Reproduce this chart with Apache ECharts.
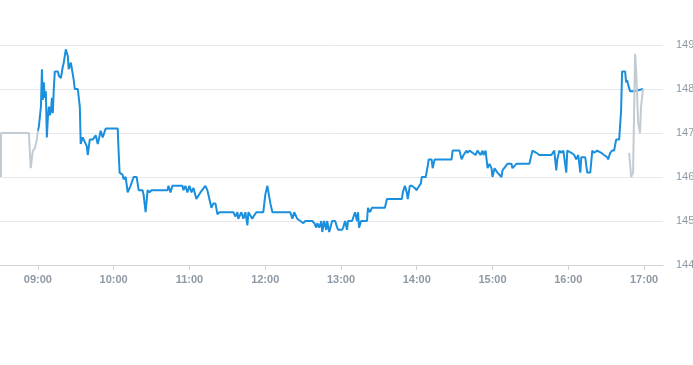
<!DOCTYPE html>
<html>
<head>
<meta charset="utf-8">
<script src="https://cdn.jsdelivr.net/npm/echarts@6/dist/echarts.min.js"></script>
<style>html,body{margin:0;padding:0;background:#fff}#c{width:693px;height:365px}</style>
</head>
<body>
<div id="c"></div>
<script>
// minutes since midnight
const preTimes = [510.8,510.8,532.9,534.3,536.0,537.6,539.2,540.0];
const preValues = [146.0,147.0,147.0,146.2,146.6,146.65,146.85,147.05];

const mainTimes = [540.0,540.8,542.4,543.2,543.9,544.7,545.5,546.3,547.1,547.9,548.7,549.5,550.3,551.1,551.8,552.6,553.4,555.8,556.6,558.2,559.7,560.5,562.1,563.7,564.4,566.1,567.6,568.4,569.2,571.6,573.2,573.9,575.5,576.3,578.7,579.5,581.1,583.4,585.8,587.4,588.2,589.7,591.3,593.7,603.2,603.9,604.7,607.1,607.9,609.5,611.1,613.4,615.8,618.2,619.8,622.9,623.7,625.3,626.9,628.4,630.0,642.6,643.4,645.0,646.6,654.5,655.3,656.8,658.4,660.0,661.6,663.2,665.5,668.7,672.6,674.2,675.8,677.4,679.0,680.6,682.2,683.7,694.8,696.4,698.0,698.7,701.1,702.7,704.3,705.9,706.7,708.2,709.8,710.6,713.0,718.5,720.1,721.7,724.1,725.7,739.9,741.5,743.0,745.4,747.8,750.2,751.7,757.3,758.9,760.4,761.2,762.8,764.4,765.2,766.7,768.3,769.1,770.7,773.0,775.4,777.0,777.8,780.9,781.7,783.3,784.8,785.6,788.8,791.1,792.7,793.5,794.3,795.9,800.6,801.4,803.0,804.5,814.8,816.4,828.2,829.0,830.6,832.1,832.9,834.5,836.1,838.4,840.0,840.8,843.2,844.0,847.1,848.7,849.5,851.8,852.6,854.2,867.6,868.4,873.9,875.5,877.1,879.4,880.2,881.8,884.2,886.6,888.1,890.5,892.1,892.9,894.5,895.3,896.1,897.6,899.2,900.0,901.6,903.9,907.1,907.9,911.8,915.0,915.8,918.9,929.2,931.6,934.7,937.1,946.6,948.9,950.5,951.3,952.9,954.5,956.1,958.4,959.2,962.4,964.7,966.3,967.9,969.5,970.3,973.4,975.0,977.4,979.0,980.5,982.9,986.1,988.4,990.8,991.6,993.2,994.7,996.3,997.9,1000.3,1001.8,1002.6,1005.0,1005.8,1006.6,1007.4,1008.9,1012.1,1019.2];
const mainValues = [147.05,147.15,147.6,148.45,147.75,148.15,147.8,147.95,146.9,147.35,147.6,147.4,147.5,147.8,147.45,148.0,148.4,148.4,148.3,148.25,148.5,148.6,148.9,148.75,148.45,148.6,148.6,148.2,148.0,148.0,147.6,146.75,146.9,146.85,146.7,146.5,146.85,146.85,146.95,146.75,146.85,147.05,146.9,147.1,147.1,146.6,146.1,146.05,145.95,146.0,145.65,145.8,146.0,146.0,145.7,145.7,145.6,145.2,145.7,145.65,145.7,145.7,145.8,145.65,145.8,145.8,145.7,145.8,145.65,145.8,145.65,145.75,145.5,145.65,145.8,145.7,145.5,145.3,145.4,145.4,145.15,145.2,145.2,145.1,145.2,145.05,145.2,145.05,145.2,144.9,145.2,145.2,145.05,145.1,145.2,145.2,145.6,145.8,145.4,145.2,145.2,145.05,145.2,145.05,145.0,144.95,145.0,145.0,144.95,144.85,144.95,144.85,145.0,144.75,145.0,144.8,145.0,144.75,145.0,145.0,144.85,144.8,144.8,144.85,145.0,144.8,145.0,145.0,145.2,145.0,145.2,144.85,145.0,145.0,145.3,145.2,145.3,145.3,145.5,145.5,145.65,145.8,145.65,145.5,145.8,145.8,145.75,145.7,145.75,145.85,146.0,146.0,146.25,146.4,146.4,146.2,146.4,146.4,146.6,146.6,146.4,146.5,146.6,146.55,146.6,146.55,146.5,146.6,146.5,146.6,146.5,146.6,146.4,146.2,146.3,146.2,146.0,146.2,146.1,146.0,146.15,146.3,146.3,146.2,146.3,146.3,146.6,146.55,146.5,146.5,146.6,146.15,146.4,146.6,146.55,146.6,146.1,146.6,146.55,146.5,146.4,146.5,146.1,146.45,146.45,146.1,146.1,146.6,146.55,146.6,146.55,146.5,146.45,146.4,146.55,146.6,146.6,146.85,146.85,147.5,148.4,148.4,148.15,148.2,148.1,147.95,147.95,148.0];

const postTimes = [1008.2,1009.8,1011.3,1012.9,1013.7,1015.3,1016.8,1017.6,1019.2];
const postValues = [146.55,146.0,146.1,148.8,148.45,147.25,147.0,147.6,148.0];

const yTicks = [144,145,146,147,148,149];

const base = new Date(2024,0,2,0,0,0).getTime();
const ts = m => base + m*60000;
const pairs = (t,v) => t.map((m,i)=>[ts(m), v[i]]);
const pad = n => (n<10?'0':'')+n;

const chart = echarts.init(document.getElementById('c'));
chart.setOption({
  animation:false,
  grid:{left:0,right:30,top:45,bottom:100,containLabel:false,outerBoundsMode:'none'},
  xAxis:{
    type:'time',
    min:ts(510), max:ts(1035),
    minInterval:3600000, maxInterval:3600000,
    axisLine:{lineStyle:{color:'#cfd4d9'}},
    axisTick:{show:true,length:5,lineStyle:{color:'#cfd4d9'}},
    splitLine:{show:false},
    axisLabel:{color:'#8e99a5',fontSize:11,fontWeight:'bold',margin:9,fontFamily:'Liberation Sans, Arial, sans-serif',
      showMinLabel:false, showMaxLabel:false,
      formatter:v=>{const d=new Date(v);return pad(d.getHours())+':'+pad(d.getMinutes());}}
  },
  yAxis:{
    type:'value', position:'right',
    min:yTicks[0], max:yTicks[yTicks.length-1], interval:1,
    axisLine:{show:false}, axisTick:{show:false},
    splitLine:{lineStyle:{color:'#e6e9ec'}},
    axisLabel:{color:'#8e99a5',fontSize:11,margin:13,fontFamily:'Liberation Sans, Arial, sans-serif'}
  },
  series:[
    {type:'line',data:pairs(mainTimes,mainValues),showSymbol:false,lineStyle:{color:'#1a8fdd',width:2},itemStyle:{color:'#1a8fdd'}},
    {type:'line',data:pairs(preTimes,preValues),showSymbol:false,lineStyle:{color:'#c3cbd2',width:2},itemStyle:{color:'#c3cbd2'}},
    {type:'line',data:pairs(postTimes,postValues),showSymbol:false,lineStyle:{color:'#c3cbd2',width:2},itemStyle:{color:'#c3cbd2'}}
  ]
});
</script>
</body>
</html>
